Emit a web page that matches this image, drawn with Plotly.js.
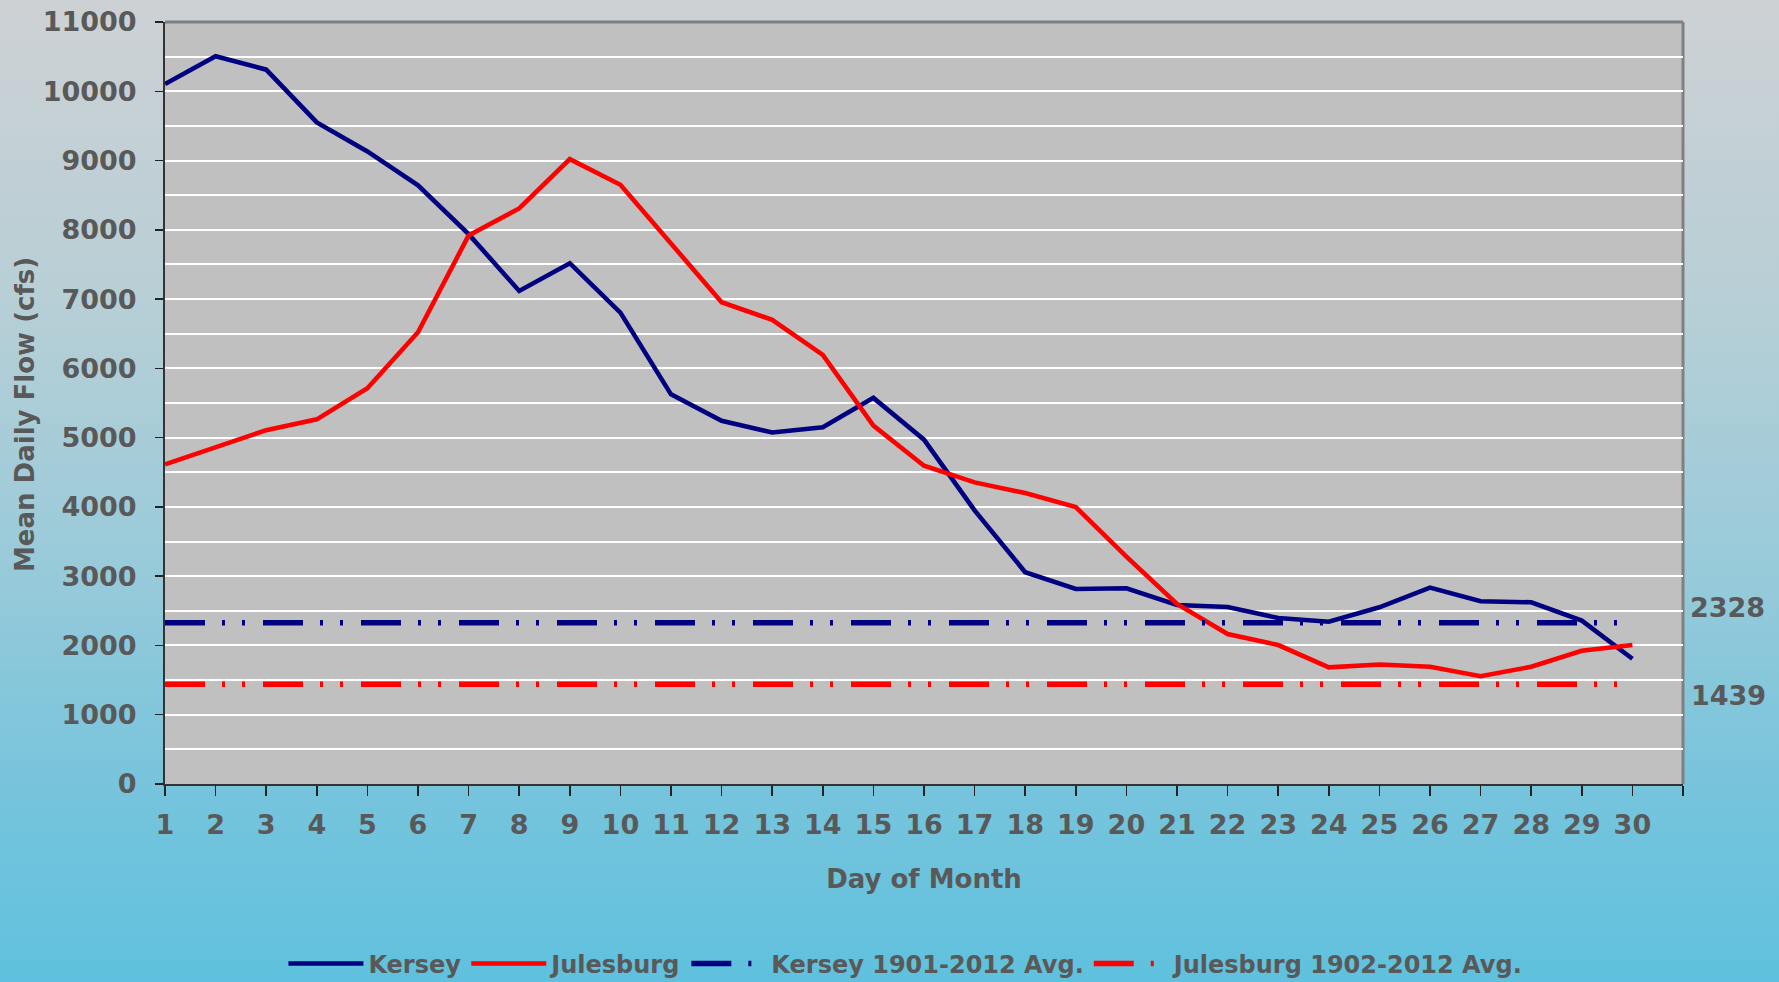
<!DOCTYPE html>
<html>
<head>
<meta charset="utf-8">
<script src="https://cdn.plot.ly/plotly-3.0.1.min.js"></script>
<style>
  html, body { margin: 0; padding: 0; }
  body {
    width: 1779px; height: 982px; overflow: hidden;
    background: linear-gradient(to bottom, #cdd1d4 0%, #b8cfd6 30%, #9ccbd9 55%, #77c4dc 80%, #5fc1de 100%);
  }
  #chart { width: 1779px; height: 982px; }
</style>
</head>
<body>
<div id="chart"></div>
<script>
const days = [1,2,3,4,5,6,7,8,9,10,11,12,13,14,15,16,17,18,19,20,21,22,23,24,25,26,27,28,29,30];
const kersey = [10105,10505,10312,9551,9132,8641,7938,7118,7518,6805,5625,5243,5075,5150,5574,4971,3949,3057,2816,2825,2584,2555,2396,2343,2551,2835,2637,2623,2358,1808];
const julesburg = [4615,4860,5108,5264,5712,6522,7918,8308,9021,8650,7807,6955,6700,6194,5174,4595,4354,4200,3997,3283,2599,2165,2006,1683,1726,1692,1557,1692,1924,2006];
const kerseyAvg = 2328;
const julesburgAvg = 1439;
const seriesNames = ['Kersey', 'Julesburg', 'Kersey 1901-2012 Avg.', 'Julesburg 1902-2012 Avg.'];
const yTickVals = [0,1000,2000,3000,4000,5000,6000,7000,8000,9000,10000,11000];
const xTitle = 'Day of Month';
const yTitle = 'Mean Daily Flow (cfs)';

const navy = '#000080';
const red = '#ff0000';
const txt = '#595959';
const font = 'DejaVu Sans, Verdana, sans-serif';
const avgDash = '40px,17px,3px,17px,3px,18px';

const xEnds = [days[0], days[days.length - 1]];

const traces = [
  { x: days, y: kersey, name: seriesNames[0], type: 'scatter', mode: 'lines',
    line: { color: navy, width: 4.6 } },
  { x: days, y: julesburg, name: seriesNames[1], type: 'scatter', mode: 'lines',
    line: { color: red, width: 4.6 } },
  { x: xEnds, y: [kerseyAvg, kerseyAvg], name: seriesNames[2], type: 'scatter', mode: 'lines',
    line: { color: navy, width: 5.5, dash: avgDash } },
  { x: xEnds, y: [julesburgAvg, julesburgAvg], name: seriesNames[3], type: 'scatter', mode: 'lines',
    line: { color: red, width: 5.5, dash: avgDash } }
];

const layout = {
  width: 1779, height: 982,
  margin: { l: 165, r: 96, t: 22, b: 198, autoexpand: false },
  paper_bgcolor: 'rgba(0,0,0,0)',
  plot_bgcolor: '#c0c0c0',
  font: { family: font, color: txt },
  showlegend: true,
  legend: {
    orientation: 'h', x: 0.078, xanchor: 'left', y: -0.236, yanchor: 'middle',
    font: { family: font, size: 24, color: txt, weight: 'bold' },
    bgcolor: 'rgba(0,0,0,0)', itemwidth: 75, tracegroupgap: 0
  },
  xaxis: {
    range: [1, 31], tickvals: days, ticktext: days.map(String),
    ticks: 'outside', ticklen: 10, tickwidth: 1.5, tickcolor: '#222',
    showline: true, linecolor: '#333', linewidth: 2,
    showgrid: false, zeroline: false, automargin: false,
    minor: { tickvals: [31], ticks: 'outside', ticklen: 10, tickwidth: 1.5, tickcolor: '#222', showgrid: false },
    tickfont: { family: font, size: 27, color: txt, weight: 'bold' },
    ticklabelstandoff: 6,
    title: { text: xTitle, font: { family: font, size: 26, color: txt, weight: 'bold' }, standoff: 30 }
  },
  yaxis: {
    range: [0, 11000], tickvals: yTickVals, ticktext: yTickVals.map(String),
    ticks: 'outside', ticklen: 8, tickwidth: 1.5, tickcolor: '#222',
    showline: true, linecolor: '#333', linewidth: 2,
    showgrid: true, gridcolor: '#ffffff', gridwidth: 2, zeroline: false, automargin: false,
    minor: { dtick: 500, tick0: 0, showgrid: true, gridcolor: '#ffffff', gridwidth: 2, ticks: '' },
    tickfont: { family: font, size: 27, color: txt, weight: 'bold' },
    ticklabelstandoff: 13
  },
  shapes: [
    { type: 'line', xref: 'paper', yref: 'paper', x0: 0, x1: 1, y0: 1, y1: 1, line: { color: '#808080', width: 3 }, layer: 'between' },
    { type: 'line', xref: 'paper', yref: 'paper', x0: 1, x1: 1, y0: 0, y1: 1, line: { color: '#808080', width: 3 }, layer: 'between' }
  ],
  annotations: [
    { xref: 'paper', yref: 'paper', x: -0.0922, y: 0.4843, xanchor: 'center', yanchor: 'middle', textangle: -90,
      text: yTitle, showarrow: false, font: { family: font, size: 26, color: txt, weight: 'bold' } },
    { xref: 'paper', yref: 'y', x: 1.0, xanchor: 'left', xshift: 5, y: kerseyAvg, yshift: 15,
      text: String(kerseyAvg), showarrow: false, font: { family: font, size: 27, color: txt, weight: 'bold' } },
    { xref: 'paper', yref: 'y', x: 1.0, xanchor: 'left', xshift: 6, y: julesburgAvg, yshift: -11,
      text: String(julesburgAvg), showarrow: false, font: { family: font, size: 27, color: txt, weight: 'bold' } }
  ]
};

Plotly.newPlot('chart', traces, layout, { displayModeBar: false, staticPlot: true });
</script>
</body>
</html>
